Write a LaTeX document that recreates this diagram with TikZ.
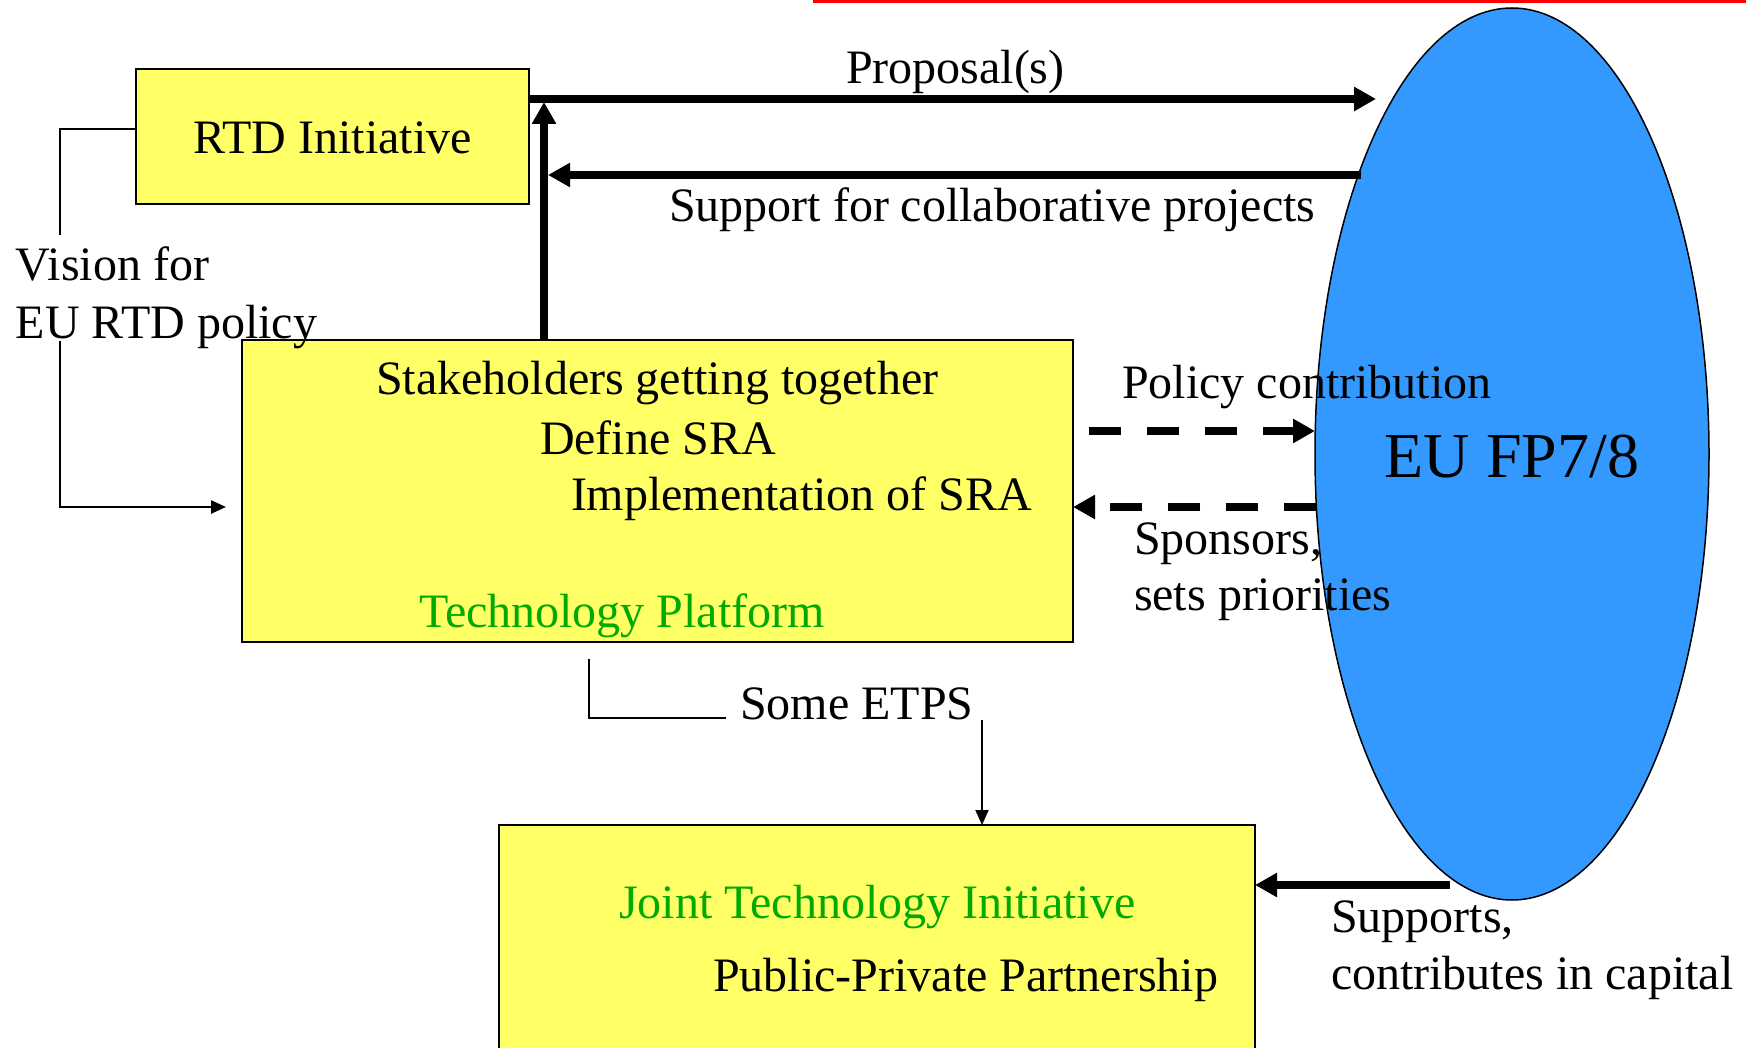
\documentclass[tikz,border=0pt]{standalone}
\usepackage{fontspec}
\setmainfont{Liberation Serif}
\usetikzlibrary{arrows.meta,shapes.geometric}
\definecolor{boxyellow}{RGB}{255,255,102}
\definecolor{fpblue}{RGB}{51,153,255}
\definecolor{txtgreen}{RGB}{0,170,0}
\definecolor{rulered}{RGB}{255,0,0}

\begin{document}
\begin{tikzpicture}[x=1pt,y=-1pt,
  every node/.style={font=\fontsize{48}{57}\selectfont, inner sep=0pt, outer sep=0pt},
  panel/.style={draw=black, line width=2pt, fill=boxyellow, anchor=north west},
  txt/.style={anchor=base west},
  bigarrow/.style={line width=8pt, -{Triangle[length=22pt,width=23pt]}},
  dasharrow/.style={bigarrow, dash pattern=on 32pt off 26pt},
  thinline/.style={line width=2.5pt},
  thinarrow/.style={line width=2pt, -{Triangle[length=15pt,width=13pt]}},
]
\clip (0,0) rectangle (1746,1048);

% top rule
\fill[rulered] (813,0) rectangle (1746,3);

% framework programme
\node[ellipse, draw=black, line width=1.5pt, fill=fpblue,
      minimum width=394pt, minimum height=892pt] (fp) at (1512,454) {};
\node[font=\fontsize{64}{76}\selectfont, yshift=-3pt] (fptxt) at (fp.center) {EU FP7/8};

% boxes
\node[panel, minimum width=393pt, minimum height=135pt] (rtd) at (136,69) {};
\node[yshift=-1.5pt] (rtdtxt) at (rtd.center) {RTD Initiative};
\node[panel, minimum width=831pt, minimum height=302pt] (tp) at (242,340) {};
\node[panel, minimum width=756pt, minimum height=240pt] (jti) at (499,825) {};

% thick connectors
\coordinate (propTip) at (1376,99);
\draw[bigarrow] (rtd.east |- propTip) -- (propTip);
\coordinate (suppStart) at (1361,175);
\coordinate (suppTip) at (548,175);
\draw[bigarrow] (suppStart) -- (suppTip);
\coordinate (upTip) at (544,102);
\draw[bigarrow] (tp.north -| upTip) -- (upTip);
\coordinate (polStart) at (1089,431);
\draw[dasharrow] (polStart) -- (polStart -| fp.west);
\coordinate (spoStart) at (1316,507);
\draw[dasharrow] (spoStart) -- (tp.east |- spoStart);
\coordinate (capStart) at (1450,885);
\draw[bigarrow] (capStart) -- (jti.east |- capStart);

% thin connectors
\coordinate (visTop) at (60,129);
\coordinate (visGapA) at (60,235);
\coordinate (visGapB) at (60,341);
\coordinate (visTip) at (226,507);
\draw[thinline] (rtd.west |- visTop) -- (visTop) -- (visGapA);
\draw[thinarrow, line width=2.5pt] (visGapB) |- (visTip);
\coordinate (etA) at (589,659);
\coordinate (etB) at (726,718);
\draw[thinline] (etA) |- (etB);
\coordinate (etC) at (982,720);
\draw[thinarrow] (etC) -- (etC |- jti.north);

% labels
\node[txt] (prop) at (846,84) {Proposal(s)};
\node[txt] (supp) at (669,222) {Support for collaborative projects};
\node[txt] (vis1) at (16,281) {Vision for};
\node[txt] (vis2) at (16,339) {EU RTD policy};
\node[txt] (tp1) at (376,395) {Stakeholders getting together};
\node[txt] (tp2) at (540,454) {Define SRA};
\node[txt] (tp3) at (571,510) {Implementation of SRA};
\node[txt, text=txtgreen] (tp4) at (419,627) {Technology Platform};
\node[txt] (pol) at (1122,399) {Policy contribution};
\node[txt] (spo1) at (1134,554) {Sponsors,};
\node[txt] (spo2) at (1134,610) {sets priorities};
\node[txt] (etps) at (740,719) {Some ETPS};
\node[txt, text=txtgreen] (jti1) at (619,918) {Joint Technology Initiative};
\node[txt] (jti2) at (713,991) {Public-Private Partnership};
\node[txt] (sup1) at (1331,932) {Supports,};
\node[txt] (sup2) at (1331,989) {contributes in capital};
\end{tikzpicture}
\end{document}
